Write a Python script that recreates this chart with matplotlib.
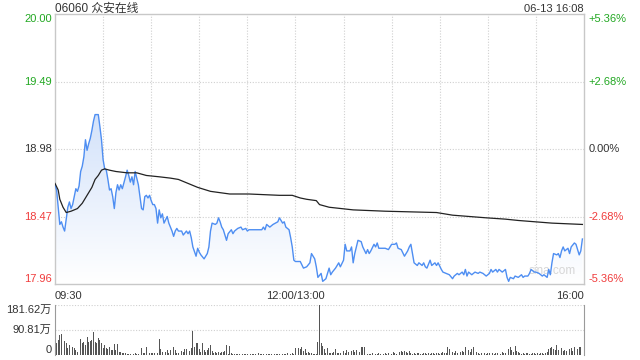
import numpy as np
import matplotlib
matplotlib.use("Agg")
import matplotlib.pyplot as plt
from matplotlib.colors import LinearSegmentedColormap

plt.rcParams['font.family'] = ['Liberation Sans', 'Noto Sans CJK SC', 'DejaVu Sans']

title = "06060 众安在线"
stamp = "06-13 16:08"
prev_close = 18.98
left_ticks = [17.96, 18.47, 18.98, 19.49, 20.00]
right_ticks = ["-5.36%", "-2.68%", "0.00%", "+2.68%", "+5.36%"]
time_labels = ["09:30", "12:00/13:00", "16:00"]
vol_ticks = [0, 90.81, 181.62]
vol_labels = ["0", "90.81万", "181.62万"]

# minute of session (0..330) and last price
price_min = [0, 1, 3, 4, 5, 6, 8, 9, 10, 11, 12, 13, 14, 15, 16, 17, 18, 19, 20, 21,
             22, 23, 24, 25, 27, 28, 29, 30, 31, 32, 33, 34, 35, 36, 37, 38, 39, 40, 41, 42,
             44, 45, 46, 47, 48, 49, 50, 51, 52, 53, 54, 55, 56, 57, 58, 59, 60, 61, 62, 63,
             64, 65, 66, 67, 68, 70, 71, 72, 73, 74, 75, 76, 77, 79, 80, 82, 83, 84, 85, 86,
             88, 89, 90, 91, 93, 95, 96, 97, 98, 100, 101, 102, 103, 104, 105, 106, 107, 108, 110, 111,
             112, 114, 116, 117, 119, 120, 121, 129, 130, 131, 132, 134, 136, 139, 140, 142, 143, 144, 146, 147,
             148, 149, 150, 153, 155, 157, 159, 160, 162, 163, 164, 166, 167, 169, 171, 172, 173, 175, 177, 178,
             180, 181, 182, 184, 185, 186, 187, 189, 191, 192, 194, 195, 196, 197, 199, 200, 201, 202, 206, 208,
             210, 212, 213, 214, 216, 218, 220, 221, 222, 223, 224, 226, 227, 229, 230, 231, 232, 234, 235, 237,
             238, 239, 241, 242, 244, 246, 248, 249, 251, 252, 254, 255, 256, 257, 258, 260, 262, 264, 265, 267,
             269, 271, 272, 273, 275, 276, 277, 279, 281, 282, 283, 284, 286, 287, 289, 291, 292, 293, 295, 296,
             297, 299, 300, 302, 304, 305, 307, 308, 309, 310, 311, 313, 314, 315, 316, 317, 318, 320, 321, 322,
             324, 325, 326, 327, 328, 329]
price_val = [18.71, 18.67, 18.41, 18.43, 18.39, 18.36, 18.54, 18.58, 18.53, 18.56, 18.62, 18.68, 18.66, 18.70, 18.81, 18.85, 18.92, 19.05, 18.97, 19.02,
             19.06, 19.12, 19.19, 19.24, 19.24, 19.15, 19.05, 18.90, 18.83, 18.82, 18.75, 18.67, 18.68, 18.62, 18.53, 18.65, 18.71, 18.67, 18.71, 18.68,
             18.77, 18.82, 18.78, 18.73, 18.77, 18.71, 18.81, 18.76, 18.71, 18.62, 18.53, 18.52, 18.62, 18.63, 18.61, 18.63, 18.59, 18.56, 18.56, 18.53,
             18.42, 18.52, 18.46, 18.49, 18.42, 18.47, 18.42, 18.39, 18.36, 18.32, 18.36, 18.38, 18.36, 18.36, 18.33, 18.36, 18.34, 18.36, 18.31, 18.24,
             18.17, 18.23, 18.20, 18.18, 18.15, 18.19, 18.24, 18.36, 18.42, 18.41, 18.42, 18.46, 18.43, 18.39, 18.37, 18.33, 18.29, 18.34, 18.37, 18.34,
             18.36, 18.38, 18.39, 18.37, 18.38, 18.36, 18.37, 18.37, 18.39, 18.37, 18.41, 18.39, 18.41, 18.43, 18.46, 18.42, 18.43, 18.39, 18.37, 18.31,
             18.24, 18.14, 18.13, 18.13, 18.08, 18.09, 18.12, 18.19, 18.15, 18.09, 18.01, 18.04, 17.98, 18.00, 18.08, 18.03, 18.05, 18.08, 18.12, 18.09,
             18.14, 18.26, 18.21, 18.21, 18.24, 18.12, 18.19, 18.29, 18.28, 18.24, 18.19, 18.22, 18.19, 18.21, 18.26, 18.24, 18.27, 18.23, 18.23, 18.22,
             18.26, 18.26, 18.27, 18.23, 18.22, 18.17, 18.21, 18.24, 18.26, 18.19, 18.12, 18.10, 18.12, 18.10, 18.12, 18.09, 18.08, 18.14, 18.10, 18.12,
             18.10, 18.12, 18.07, 18.05, 18.04, 18.03, 18.00, 18.02, 18.04, 18.03, 18.05, 18.03, 18.07, 18.02, 18.05, 18.03, 18.05, 18.04, 18.05, 18.04,
             18.02, 18.04, 18.07, 18.05, 18.07, 18.05, 18.07, 18.05, 18.07, 18.01, 17.98, 18.01, 18.00, 18.02, 18.01, 18.03, 18.01, 18.02, 18.02, 18.04,
             18.07, 18.05, 18.05, 18.04, 18.02, 18.03, 18.01, 18.07, 18.03, 18.12, 18.19, 18.18, 18.19, 18.16, 18.21, 18.24, 18.21, 18.23, 18.19, 18.24,
             18.27, 18.26, 18.22, 18.18, 18.21, 18.30]

# average price line
avg_min = [0, 2, 3, 5, 7, 10, 14, 17, 19, 21, 23, 25, 27, 29, 31, 34, 38, 45, 51, 57,
           65, 72, 77, 83, 89, 97, 109, 121, 140, 148, 153, 157, 163, 165, 171, 186, 206, 238, 248, 269,
           281, 289, 310, 329]
avg_val = [18.72, 18.67, 18.60, 18.54, 18.50, 18.51, 18.53, 18.57, 18.61, 18.65, 18.69, 18.75, 18.78, 18.82, 18.83, 18.82, 18.81, 18.80, 18.80, 18.78,
           18.77, 18.76, 18.75, 18.72, 18.69, 18.66, 18.64, 18.64, 18.63, 18.63, 18.61, 18.60, 18.59, 18.56, 18.54, 18.52, 18.51, 18.50, 18.48, 18.46,
           18.45, 18.44, 18.42, 18.41]

# volume per minute, in 万
volume = [36, 42, 54, 73, 76, 55, 52, 42, 24, 36,
          48, 30, 24, 18, 12, 12, 57, 42, 48, 36,
          64, 48, 52, 54, 85, 48, 45, 60, 54, 42,
          24, 36, 27, 21, 30, 18, 18, 40, 18, 40,
          12, 10, 8, 6, 6, 4, 5, 4, 5, 4,
          6, 5, 5, 57, 24, 8, 8, 30, 10, 8,
          8, 7, 8, 9, 8, 57, 21, 12, 12, 10,
          18, 8, 18, 28, 30, 18, 8, 6, 12, 16,
          12, 21, 21, 18, 16, 24, 87, 30, 42, 42,
          21, 12, 45, 18, 12, 18, 24, 36, 16, 8,
          12, 8, 10, 8, 12, 10, 15, 36, 5, 34,
          8, 3, 2, 3, 2, 4, 3, 2, 3, 4,
          2, 3, 5, 3, 2, 4, 3, 6, 3, 2,
          4, 3, 5, 2, 3, 4, 6, 3, 4, 5,
          3, 6, 4, 3, 5, 7, 4, 3, 6, 4,
          24, 21, 24, 21, 28, 16, 21, 8, 10, 6,
          8, 4, 3, 5, 48, 181.62, 42, 33, 21, 8,
          24, 8, 8, 6, 12, 21, 8, 6, 8, 12,
          16, 6, 18, 12, 12, 16, 18, 12, 18, 28,
          10, 28, 30, 28, 6, 4, 5, 3, 6, 4,
          5, 3, 7, 4, 6, 5, 8, 4, 6, 12,
          5, 12, 6, 4, 8, 12, 16, 12, 16, 12,
          8, 14, 6, 5, 7, 4, 6, 8, 5, 4,
          6, 8, 5, 7, 4, 6, 9, 5, 6, 8,
          5, 7, 10, 6, 8, 28, 21, 16, 12, 8,
          16, 6, 8, 12, 14, 10, 30, 6, 18, 12,
          21, 28, 21, 12, 8, 5, 6, 4, 7, 5,
          8, 6, 4, 9, 5, 7, 6, 8, 5, 10,
          6, 8, 30, 21, 28, 18, 12, 33, 16, 12,
          6, 5, 8, 4, 6, 7, 5, 4, 8, 6,
          5, 7, 4, 6, 8, 5, 9, 12, 21, 24,
          30, 21, 18, 36, 18, 21, 24, 16, 18, 16,
          12, 21, 24, 16, 28, 24, 21, 30, 28]

green = '#22a822'
red = '#f03c3c'
dark = '#333333'
grid_c = '#d0d0d0'
W, H = 640, 360

fig = plt.figure(figsize=(6.4, 3.6), dpi=100)
ax = fig.add_axes([55 / W, (H - 284) / H, 529 / W, 270 / H])
axv = fig.add_axes([55 / W, (H - 355) / H, 529 / W, 50 / H])

ymin, ymax = left_ticks[0], left_ticks[-1]

# gradient area under price line
poly = ax.fill_between(price_min, price_val, ymin, facecolor='none', edgecolor='none')
cmap = LinearSegmentedColormap.from_list('area', ['#ffffff', '#d3e2fa'])
grad = np.linspace(0, 1, 256).reshape(-1, 1)
im = ax.imshow(grad, extent=[0, 330, ymin, max(price_val)], aspect='auto',
               cmap=cmap, origin='lower', zorder=1)
im.set_clip_path(poly.get_paths()[0], transform=ax.transData)

ax.plot(price_min, price_val, color='#4e8ef2', lw=1.0, zorder=3)
ax.plot(avg_min, avg_val, color='#222222', lw=0.9, zorder=3)

ax.set_xlim(0, 330)
ax.set_ylim(ymin, ymax)
ax.set_xticks([])
ax.set_yticks([])
for s in ax.spines.values():
    s.set_color('#c8c8c8')
    s.set_linewidth(1.0)

for m in range(30, 330, 30):
    ax.axvline(m, color=grid_c, ls=(0, (1, 1.5)), lw=0.8, zorder=0)
for v in left_ticks[1:-1]:
    ax.axhline(v, color=grid_c, ls=(0, (1, 1.5)), lw=0.8, zorder=0)

# price / percent labels
for i, (v, pct) in enumerate(zip(left_ticks, right_ticks)):
    if v > prev_close + 0.001:
        c = green
    elif v < prev_close - 0.001:
        c = red
    else:
        c = dark
    va = 'center'
    if i == 0:
        va = 'bottom'
    elif i == len(left_ticks) - 1:
        va = 'top'
    ax.text(-0.006, v, f"{v:.2f}", transform=ax.get_yaxis_transform(),
            ha='right', va=va, color=c, fontsize=8)
    ax.text(1.009, v, pct, transform=ax.get_yaxis_transform(),
            ha='left', va=va, color=c, fontsize=8)

# time labels
ax.text(0, -0.025, time_labels[0], transform=ax.transAxes, ha='left', va='top', fontsize=8, color=dark)
ax.text(150 / 330, -0.025, time_labels[1], transform=ax.transAxes, ha='center', va='top', fontsize=8, color=dark)
ax.text(1, -0.025, time_labels[2], transform=ax.transAxes, ha='right', va='top', fontsize=8, color=dark)

# header
ax.text(0, 1.007, title, transform=ax.transAxes, ha='left', va='baseline', fontsize=8.5, color=dark)
ax.text(1, 1.007, stamp, transform=ax.transAxes, ha='right', va='baseline', fontsize=8, color=dark)

# watermark
ax.text(0.94, 0.025, "sina.com", transform=ax.transAxes, ha='center', va='bottom',
        fontsize=8.5, color='#d6d6d6', zorder=2)

# volume panel
axv.bar(np.arange(len(volume)), volume, width=0.55, color='#555555', zorder=2)
axv.set_xlim(0, 330)
axv.set_ylim(0, vol_ticks[-1])
axv.set_xticks([])
axv.set_yticks([])
for k in ['top', 'bottom']:
    axv.spines[k].set_visible(False)
for k in ['left', 'right']:
    axv.spines[k].set_color('#9a9a9a')
for v in vol_ticks[1:]:
    axv.axhline(v, color=grid_c, ls=(0, (1, 1.5)), lw=0.8, zorder=0)
for i, (v, lab) in enumerate(zip(vol_ticks, vol_labels)):
    va = 'center'
    if i == 0:
        va = 'bottom'
    elif i == len(vol_ticks) - 1:
        va = 'top'
    axv.text(-0.006, v, lab, transform=axv.get_yaxis_transform(),
             ha='right', va=va, color=dark, fontsize=8)

fig.savefig("out.png", dpi=100)
